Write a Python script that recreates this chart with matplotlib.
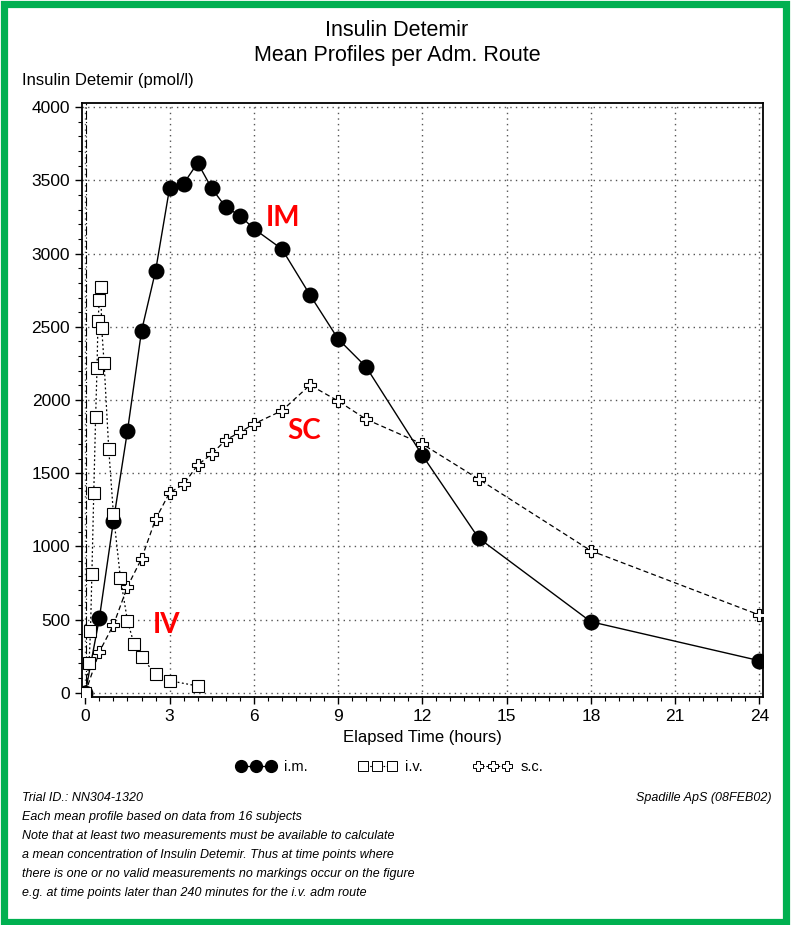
import matplotlib
matplotlib.use('Agg')
import matplotlib.pyplot as plt
from matplotlib.lines import Line2D
from matplotlib.patches import Rectangle
from matplotlib.ticker import MultipleLocator

# mean insulin detemir profiles (pmol/l) per administration route
im_hours = [0, 0.5, 1, 1.5, 2, 2.5, 3, 3.5, 4, 4.5, 5, 5.5, 6, 7, 8, 9, 10, 12, 14, 18, 24]
im_conc = [0, 510, 1173, 1788, 2471, 2881, 3448, 3478, 3620, 3446, 3317, 3260, 3170,
           3031, 2717, 2417, 2225, 1622, 1057, 485, 219]

iv_minutes = [0, 8, 11, 14, 18, 22, 25, 27, 30, 33, 35, 40, 50, 60, 75, 90, 104, 120, 150, 180, 240]
iv_hours = [m / 60 for m in iv_minutes]
iv_conc = [0, 205, 424, 811, 1365, 1886, 2221, 2538, 2682, 2774, 2490, 2255, 1665,
           1221, 782, 492, 333, 242, 128, 82, 46]

sc_hours = [0, 0.5, 1, 1.5, 2, 2.5, 3, 3.5, 4, 4.5, 5, 5.5, 6, 7, 8, 9, 10, 12, 14, 18, 24]
sc_conc = [0, 280, 463, 725, 915, 1185, 1367, 1424, 1556, 1631, 1727, 1779, 1836,
           1927, 2102, 1993, 1868, 1699, 1460, 970, 531]

dose_time = 0.01

route_labels = ['IM', 'SC', 'IV']
route_label_pos = [(7.05, 3245), (7.8, 1790), (2.88, 463)]

footnotes = [
    'Trial ID.: NN304-1320',
    'Each mean profile based on data from 16 subjects',
    'Note that at least two measurements must be available to calculate',
    'a mean concentration of Insulin Detemir. Thus at time points where',
    'there is one or no valid measurements no markings occur on the figure',
    'e.g. at time points later than 240 minutes for the i.v. adm route',
]

plt.rcParams['font.family'] = ['Liberation Sans', 'DejaVu Sans']

fig = plt.figure(figsize=(7.94, 9.25), dpi=100)
ax = fig.add_axes([0.1033, 0.2462, 0.8577, 0.6428])

ax.axvline(dose_time, color='black', lw=0.8, ls=(0, (8, 2, 1, 2)), zorder=2)

ax.plot(im_hours, im_conc, color='black', lw=1.0, ls='-', marker='o', ms=10.5,
        mfc='black', mec='black', zorder=3)
ax.plot(sc_hours, sc_conc, color='black', lw=0.9, ls=(0, (4, 2.5)), marker='P', ms=9,
        mfc='white', mec='black', mew=0.8, zorder=4)
ax.plot(iv_hours, iv_conc, color='black', lw=0.9, ls=(0, (1.5, 2)), marker='s', ms=8.5,
        mfc='white', mec='black', mew=0.8, zorder=5)

for lab, (tx, ty) in zip(route_labels, route_label_pos):
    ax.text(tx, ty, lab, color='#ff0000', fontsize=20, fontweight='bold',
            family=['Lato', 'DejaVu Sans'], ha='center', va='center', zorder=6)

ax.set_xlim(-0.118, 24.13)
ax.set_ylim(-31, 4031)
ax.xaxis.set_major_locator(MultipleLocator(3))
ax.xaxis.set_minor_locator(MultipleLocator(0.5))
ax.yaxis.set_major_locator(MultipleLocator(500))
ax.yaxis.set_minor_locator(MultipleLocator(100))
ax.tick_params(which='major', direction='out', length=5, width=1, labelsize=12.5)
ax.tick_params(which='minor', direction='out', length=3, width=0.8)
ax.grid(True, which='major', color='#555555', ls=(0, (1, 3)), lw=1.0)
for sp in ax.spines.values():
    sp.set_linewidth(1.3)

ax.set_xlabel('Elapsed Time (hours)', fontsize=12, labelpad=4)
fig.text(22 / 794, 1 - 80 / 925, 'Insulin Detemir (pmol/l)', fontsize=12,
         ha='left', va='center')

fig.text(0.5, 1 - 30 / 925, 'Insulin Detemir', fontsize=15.5, ha='center', va='center')
fig.text(0.5, 1 - 55 / 925, 'Mean Profiles per Adm. Route', fontsize=15.5,
         ha='center', va='center')

handles = [
    Line2D([], [], color='black', lw=1.0, marker='o', ms=8.5, mfc='black'),
    Line2D([], [], color='black', lw=0.8, ls=(0, (1.5, 1.5)), marker='s', ms=7,
           mfc='white', mew=0.7),
    Line2D([], [], color='black', lw=0.8, ls=(0, (2, 1.5)), marker='P', ms=7,
           mfc='white', mew=0.7),
]
fig.legend(handles, ['i.m.', 'i.v.', 's.c.'], loc='center', ncol=3, numpoints=3,
           frameon=False, fontsize=10.5, handlelength=2.6, handletextpad=0.6,
           columnspacing=3.5, bbox_to_anchor=(390 / 794, 1 - 767 / 925))

foot_family = ['Liberation Sans Narrow', 'Liberation Sans']
for i, line in enumerate(footnotes):
    fig.text(22 / 794, 1 - (798 + i * 19) / 925, line, fontsize=9, style='italic',
             family=foot_family, ha='left', va='center')
fig.text(771 / 794, 1 - 798 / 925, 'Spadille ApS (08FEB02)', fontsize=9,
         style='italic', family=foot_family, ha='right', va='center')

# green frame around the whole picture
fig.patches.append(Rectangle((3.5 / 794, 3.5 / 925), 782 / 794, 918 / 925,
                             transform=fig.transFigure, fill=False,
                             edgecolor='#00b050', lw=5.2))

fig.savefig('out.png', dpi=100)
